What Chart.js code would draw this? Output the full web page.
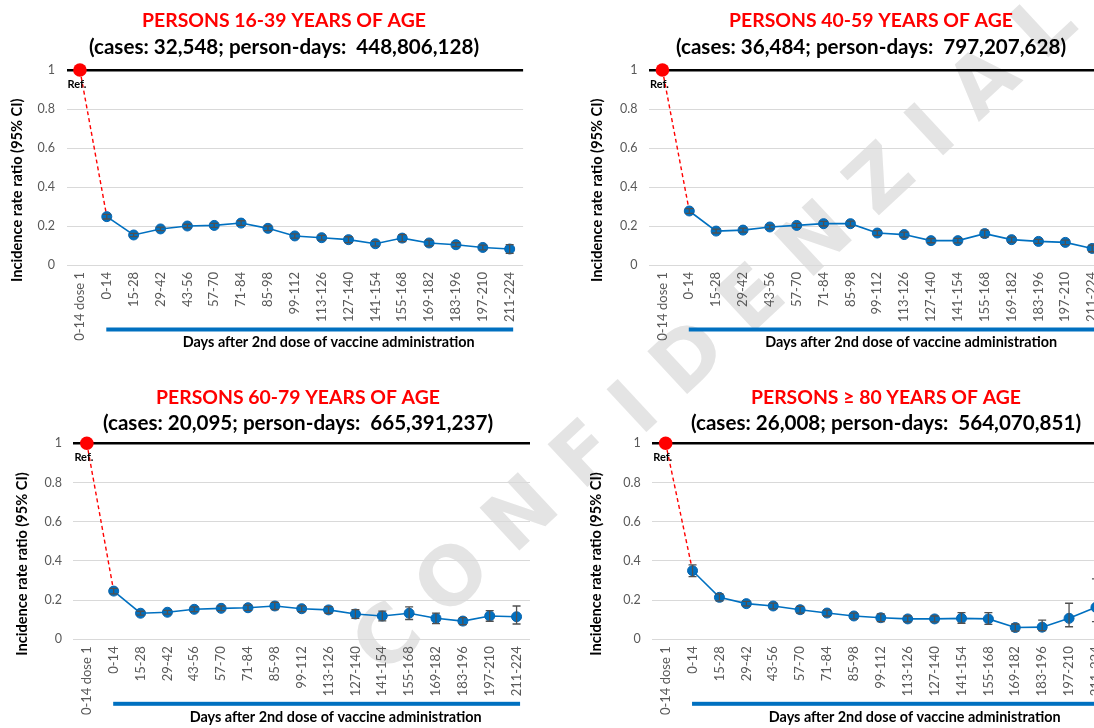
<!DOCTYPE html>
<html><head><meta charset="utf-8">
<script src="https://cdn.jsdelivr.net/npm/chart.js@4.4.1/dist/chart.umd.min.js"></script>
<style>
html,body{margin:0;padding:0;background:#fff;width:1094px;height:728px;overflow:hidden;position:relative;font-family:Lato,sans-serif}
.wm{position:absolute;left:752px;top:296px;transform:translate(-50%,-50%) rotate(-43deg);font:bold 80px 'DejaVu Sans';letter-spacing:26px;color:#e4e4e4;white-space:nowrap;z-index:0}
.pc{position:absolute;z-index:1}
.pc canvas{display:block}
</style></head><body>
<div class="wm">CONFIDENZIALE</div>
<div class="pc" style="left:0;top:0;width:568px;height:360px"><canvas id="c1"></canvas></div>
<div class="pc" style="left:590px;top:0;width:562px;height:360px"><canvas id="c2"></canvas></div>
<div class="pc" style="left:0;top:375px;width:596px;height:353px"><canvas id="c3"></canvas></div>
<div class="pc" style="left:590px;top:375px;width:592px;height:353px"><canvas id="c4"></canvas></div>
<script>
// ---------- data ----------
const categories = ['0-14 dose 1','0-14','15-28','29-42','43-56','57-70','71-84','85-98','99-112','113-126','127-140','141-154','155-168','169-182','183-196','197-210','211-224'];
const refValue = 1;
const yTicks = [0, 0.2, 0.4, 0.6, 0.8, 1];
const yAxisTitle = 'Incidence rate ratio (95% CI)';
const xAxisTitle = 'Days after 2nd dose of vaccine administration';
const refLabel = 'Ref.';

const titles = ['PERSONS 16-39 YEARS OF AGE','PERSONS 40-59 YEARS OF AGE','PERSONS 60-79 YEARS OF AGE','PERSONS \u2265 80 YEARS OF AGE'];
const subtitles = ['(cases: 32,548; person-days:  448,806,128)','(cases: 36,484; person-days:  797,207,628)','(cases: 20,095; person-days:  665,391,237)','(cases: 26,008; person-days:  564,070,851)'];

const irr16_39 = [0.248,0.154,0.185,0.200,0.203,0.215,0.188,0.149,0.140,0.130,0.109,0.138,0.113,0.104,0.090,0.082];
const lo16_39  = [0.236,0.146,0.176,0.191,0.193,0.203,0.176,0.138,0.128,0.115,0.097,0.120,0.098,0.094,0.078,0.060];
const hi16_39  = [0.260,0.162,0.194,0.209,0.213,0.227,0.200,0.160,0.152,0.145,0.121,0.156,0.128,0.114,0.102,0.104];

const irr40_59 = [0.277,0.174,0.179,0.195,0.203,0.212,0.212,0.164,0.156,0.125,0.125,0.161,0.130,0.121,0.116,0.085];
const lo40_59  = [0.265,0.164,0.169,0.185,0.193,0.200,0.199,0.152,0.143,0.114,0.113,0.143,0.117,0.111,0.104,0.068];
const hi40_59  = [0.289,0.184,0.189,0.205,0.213,0.224,0.225,0.176,0.169,0.136,0.137,0.179,0.143,0.131,0.128,0.102];

const irr60_79 = [0.246,0.133,0.138,0.153,0.158,0.161,0.170,0.156,0.150,0.129,0.119,0.133,0.107,0.093,0.119,0.115];
const lo60_79  = [0.232,0.123,0.128,0.141,0.146,0.148,0.152,0.141,0.133,0.107,0.094,0.101,0.080,0.075,0.092,0.078];
const hi60_79  = [0.260,0.143,0.148,0.165,0.170,0.174,0.188,0.171,0.167,0.151,0.144,0.165,0.134,0.111,0.146,0.170];

const irr80 = [0.350,0.214,0.182,0.170,0.151,0.134,0.119,0.110,0.104,0.104,0.107,0.104,0.060,0.062,0.107,0.163];
const lo80  = [0.320,0.196,0.170,0.155,0.134,0.119,0.104,0.090,0.089,0.089,0.082,0.076,0.042,0.044,0.064,0.090];
const hi80  = [0.380,0.232,0.194,0.185,0.168,0.149,0.134,0.130,0.119,0.119,0.136,0.136,0.078,0.098,0.184,0.308];

// ---------- drawing ----------
const BLUE = '#0070C0';
const decor = {
  id: 'decor',
  afterDatasetsDraw(chart) {
    const o = chart.options.plugins.decor;
    const x = chart.scales.x, y = chart.scales.y, ctx = chart.ctx;
    ctx.save();
    ctx.strokeStyle = '#505050'; ctx.lineWidth = 1.3;
    o.lo.forEach((l, i) => {
      const px = x.getPixelForValue(i + 1);
      const y1 = y.getPixelForValue(l), y2 = y.getPixelForValue(o.hi[i]);
      ctx.beginPath();
      ctx.moveTo(px, y1); ctx.lineTo(px, y2);
      ctx.moveTo(px - 4, y1); ctx.lineTo(px + 4, y1);
      ctx.moveTo(px - 4, y2); ctx.lineTo(px + 4, y2);
      ctx.stroke();
    });
    const rx = x.getPixelForValue(0), ry = y.getPixelForValue(refValue);
    ctx.fillStyle = '#000'; ctx.font = 'bold 11px Lato';
    ctx.textAlign = 'center'; ctx.textBaseline = 'middle';
    ctx.fillText(refLabel, rx - 3, ry + 14);
    ctx.restore();
  },
  afterDraw(chart) {
    const o = chart.options.plugins.decor;
    const x = chart.scales.x, ctx = chart.ctx, a = chart.chartArea, b = a.bottom;
    const x1 = x.getPixelForValue(1), x2 = x.getPixelForValue(categories.length - 1);
    ctx.save();
    ctx.fillStyle = BLUE;
    ctx.fillRect(x1 - 0.5, b + 62.5, x2 - x1 + 4, 4);
    ctx.fillStyle = '#000'; ctx.font = 'bold 14.4px Lato';
    ctx.textAlign = 'center'; ctx.textBaseline = 'middle';
    ctx.fillText(xAxisTitle, (x1 + x2) / 2 + 20.5, b + 77.7);
    // y axis title
    ctx.translate(o.ytx, (a.top + a.bottom) / 2 + 22.7);
    ctx.rotate(-Math.PI / 2);
    ctx.font = 'bold 14.6px Lato';
    ctx.fillText(yAxisTitle, 0, 0);
    ctx.restore();
  }
};

function makeChart(id, idx, vals, lo, hi, g) {
  const blueData = [null].concat(vals);
  const redData = [refValue, vals[0]].concat(new Array(categories.length - 2).fill(null));
  return new Chart(document.getElementById(id), {
    type: 'line',
    data: {
      labels: categories,
      datasets: [
        { data: blueData, borderColor: BLUE, backgroundColor: BLUE, borderWidth: 1.6,
          pointRadius: 5, pointBorderWidth: 1, pointBorderColor: '#0a64ad', tension: 0, clip: false, spanGaps: false },
        { data: redData, borderColor: '#ff0000', backgroundColor: '#ff0000', borderWidth: 1.4,
          borderDash: [4, 3], pointRadius: [6.8, 0], pointBorderWidth: 0, tension: 0, clip: false }
      ]
    },
    options: {
      responsive: true, maintainAspectRatio: false, animation: false, devicePixelRatio: 1,
      events: [],
      layout: { padding: { left: 0, right: 0, top: 0, bottom: 0 } },
      plugins: {
        legend: { display: false }, tooltip: { enabled: false },
        title: { display: true, text: titles[idx], color: '#ff0000',
          font: { family: 'Lato', size: 19.4, weight: 'bold' }, padding: { top: g.tTop, bottom: 0 } },
        subtitle: { display: true, text: subtitles[idx], color: '#000',
          font: { family: 'Lato', size: 20.6, weight: 'bold' }, padding: { top: g.sTop, bottom: g.sBot } },
        decor: { lo: lo, hi: hi, ytx: g.ytx }
      },
      scales: {
        x: { type: 'category', offset: true,
          grid: { display: false, drawTicks: false }, border: { display: false },
          ticks: { autoSkip: false, maxRotation: 90, minRotation: 90, color: '#595959',
            font: { family: 'Lato', size: 13 }, padding: 7 },
          afterFit: s => { s.height = g.xh; } },
        y: { min: 0, max: 1,
          afterBuildTicks: s => { s.ticks = yTicks.map(v => ({ value: v })); },
          ticks: { callback: v => String(Math.round(v * 10) / 10), color: '#595959',
            font: { family: 'Lato', size: 12.5 }, padding: 11.5 },
          grid: { drawTicks: false,
            color: c => (c.tick && c.tick.value === refValue) ? '#000' : '#d9d9d9',
            lineWidth: c => (c.tick && c.tick.value === refValue) ? 2.5 : 1 },
          border: { display: false },
          title: { display: false },
          afterFit: s => { s.width = g.yw; } },
        yR: { position: 'right', display: true, grid: { display: false, drawTicks: false },
          border: { display: false }, ticks: { display: false },
          afterFit: s => { s.width = g.pr; } }
      }
    },
    plugins: [decor]
  });
}

makeChart('c1', 0, irr16_39, lo16_39, hi16_39, { tTop: 9.36, sTop: 2.0, sBot: 10.64, xh: 95, yw: 66.5, pr: 44.9, ytx: 17.2 });
makeChart('c2', 1, irr40_59, lo40_59, hi40_59, { tTop: 9.36, sTop: 2.0, sBot: 10.64, xh: 95, yw: 59, pr: 46.4, ytx: 7.5 });
makeChart('c3', 2, irr60_79, lo60_79, hi60_79, { tTop: 10.86, sTop: 1.5, sBot: 7.94, xh: 88.7, yw: 73.4, pr: 66, ytx: 22.4 });
makeChart('c4', 3, irr80, lo80, hi80, { tTop: 10.86, sTop: 1.5, sBot: 7.94, xh: 88.7, yw: 62.2, pr: 72.6, ytx: 6 });
</script>
</body></html>
